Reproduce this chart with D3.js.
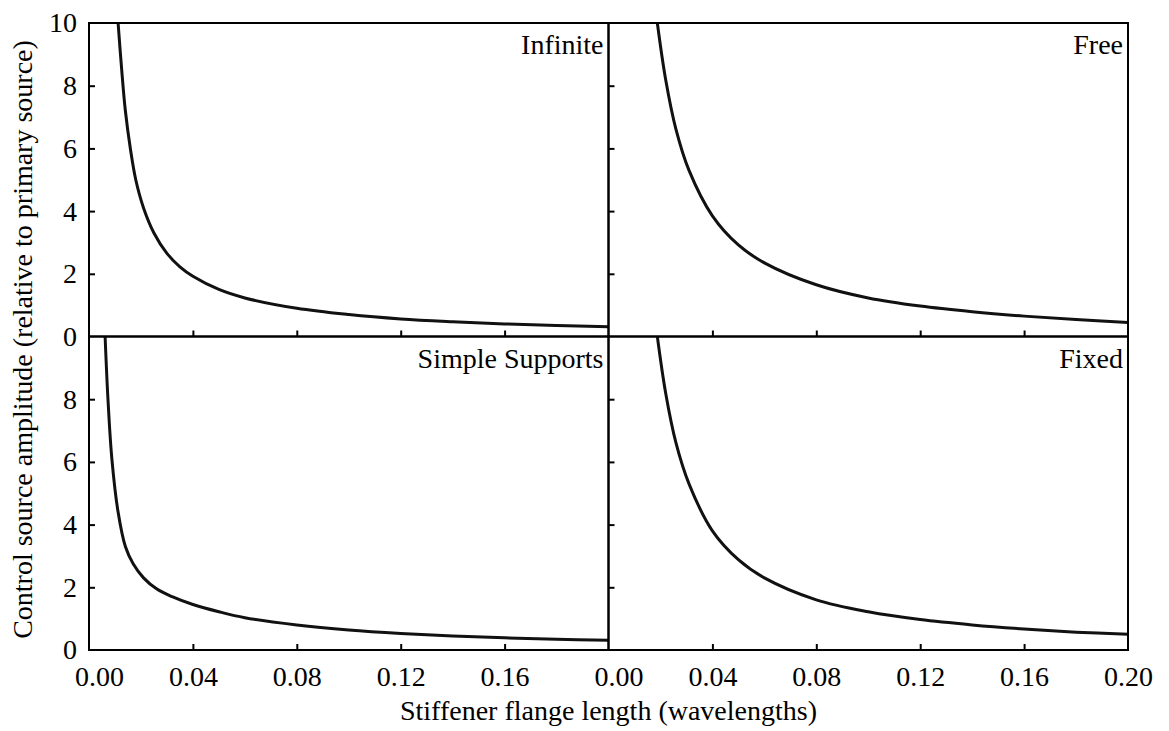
<!DOCTYPE html>
<html>
<head>
<meta charset="utf-8">
<script src="https://cdn.jsdelivr.net/npm/d3@7/dist/d3.min.js"></script>
<style>
body { margin: 0; background: #fff; }
</style>
</head>
<body>
<div id="chart"></div>
<script>
// values, x in wavelengths, y relative to primary source
var panelNames = ["Infinite", "Free", "Simple Supports", "Fixed"];
var xTickValues = [0, 0.04, 0.08, 0.12, 0.16, 0.20];
var yTickValues = [0, 2, 4, 6, 8, 10];

var infiniteX = [0.0112, 0.0125, 0.014, 0.016, 0.018, 0.021, 0.025, 0.030, 0.035, 0.040, 0.050, 0.060, 0.080, 0.100, 0.120, 0.140, 0.160, 0.180, 0.200];
var infiniteY = [10.0, 8.6, 7.2, 5.95, 5.0, 4.1, 3.3, 2.65, 2.22, 1.92, 1.5, 1.23, 0.9, 0.7, 0.56, 0.47, 0.4, 0.35, 0.31];

var freeX = [0.0188, 0.022, 0.026, 0.031, 0.040, 0.050, 0.060, 0.080, 0.100, 0.120, 0.140, 0.160, 0.180, 0.200];
var freeY = [10.0, 8.2, 6.6, 5.3, 3.85, 2.92, 2.35, 1.65, 1.23, 0.97, 0.79, 0.65, 0.54, 0.45];

var simpleX = [0.0062, 0.0073, 0.0088, 0.0112, 0.014, 0.017, 0.021, 0.026, 0.032, 0.040, 0.050, 0.060, 0.080, 0.100, 0.120, 0.140, 0.160, 0.180, 0.200];
var simpleY = [10.0, 8.0, 6.1, 4.4, 3.3, 2.75, 2.3, 1.95, 1.7, 1.45, 1.22, 1.03, 0.8, 0.64, 0.53, 0.45, 0.39, 0.34, 0.31];

var fixedX = [0.0188, 0.022, 0.026, 0.031, 0.040, 0.050, 0.060, 0.080, 0.100, 0.120, 0.140, 0.160, 0.180, 0.200];
var fixedY = [10.0, 8.2, 6.6, 5.3, 3.8, 2.88, 2.3, 1.6, 1.22, 0.97, 0.8, 0.67, 0.57, 0.5];

var seriesX = [infiniteX, freeX, simpleX, fixedX],
    seriesY = [infiniteY, freeY, simpleY, fixedY];

var width = 1169, height = 731,
    leftEdge = 89, midX = 608.5, rightEdge = 1128,
    topEdge = 23, midY = 336.5, bottomEdge = 650,
    fontSize = 28,
    fontFamily = "Liberation Serif, Tinos, Times New Roman, Times, Nimbus Roman, FreeSerif, Noto Serif, DejaVu Serif, serif";

var svg = d3.select("#chart").append("svg")
    .attr("width", width)
    .attr("height", height);

var panels = panelNames.map(function(name, i) {
    var col = i % 2, row = Math.floor(i / 2);
    var x = d3.scaleLinear()
        .domain([0, 0.2])
        .range(col == 0 ? [leftEdge, midX] : [midX, rightEdge]);
    var y = d3.scaleLinear()
        .domain([0, 10])
        .range(row == 0 ? [midY, topEdge] : [bottomEdge, midY]);
    var pts = seriesX[i].map(function(v, j) { return [v, seriesY[i][j]]; });
    return {name: name, col: col, row: row, x: x, y: y, pts: pts};
});

var defs = svg.append("defs");

panels.forEach(function(p, i) {
    var x0 = p.x.range()[0], x1 = p.x.range()[1],
        y0 = p.y.range()[1], y1 = p.y.range()[0];

    defs.append("clipPath")
        .attr("id", "clip" + i)
        .append("rect")
        .attr("x", x0).attr("y", y0)
        .attr("width", x1 - x0).attr("height", y1 - y0);

    var g = svg.append("g");

    // curve
    var line = d3.line()
        .x(function(d) { return p.x(d[0]); })
        .y(function(d) { return p.y(d[1]); })
        .curve(d3.curveCatmullRom.alpha(0.5));

    g.append("path")
        .datum(p.pts)
        .attr("clip-path", "url(#clip" + i + ")")
        .attr("d", line)
        .attr("fill", "none")
        .attr("stroke", "#111")
        .attr("stroke-width", 3);

    // inward tick marks
    var xTicks = g.append("g")
        .attr("transform", "translate(0," + y1 + ")")
        .call(d3.axisBottom(p.x)
            .tickValues(xTickValues.slice(1, 5))
            .tickSizeInner(-6).tickSizeOuter(0)
            .tickFormat(""));
    xTicks.select(".domain").remove();
    xTicks.selectAll("line").attr("stroke", "#000").attr("stroke-width", 2);

    var yTicks = g.append("g")
        .attr("transform", "translate(" + x0 + ",0)")
        .call(d3.axisLeft(p.y)
            .tickValues(yTickValues.slice(1, 5))
            .tickSizeInner(-6).tickSizeOuter(0)
            .tickFormat(""));
    yTicks.select(".domain").remove();
    yTicks.selectAll("line").attr("stroke", "#000").attr("stroke-width", 2);

    // frame
    g.append("rect")
        .attr("x", x0).attr("y", y0)
        .attr("width", x1 - x0).attr("height", y1 - y0)
        .attr("fill", "none")
        .attr("stroke", "#000")
        .attr("stroke-width", 2);

    g.append("text")
        .attr("x", x1 - 5)
        .attr("y", y0 + 31)
        .attr("text-anchor", "end")
        .attr("font-family", fontFamily)
        .attr("font-size", fontSize)
        .text(p.name);

    // tick labels
    if (p.row == 1) {
        var xLab = g.append("g")
            .attr("transform", "translate(0," + y1 + ")")
            .call(d3.axisBottom(p.x)
                .tickValues(p.col == 0 ? xTickValues.slice(0, 5) : xTickValues)
                .tickSize(0).tickPadding(16)
                .tickFormat(d3.format(".2f")));
        xLab.attr("font-family", fontFamily).attr("font-size", fontSize);
        xLab.select(".domain").remove();
        xLab.selectAll("text")
            .attr("fill", "#000")
            .attr("dx", function(d) { return d == 0 ? 10 : 0; });
    }
    if (p.col == 0) {
        var yLab = g.append("g")
            .attr("transform", "translate(" + x0 + ",0)")
            .call(d3.axisLeft(p.y)
                .tickValues(p.row == 0 ? yTickValues : yTickValues.slice(0, 5))
                .tickSize(0).tickPadding(12));
        yLab.attr("font-family", fontFamily).attr("font-size", fontSize);
        yLab.select(".domain").remove();
        yLab.selectAll("text").attr("fill", "#000");
    }
});

svg.append("text")
    .attr("x", (leftEdge + rightEdge) / 2)
    .attr("y", 720)
    .attr("text-anchor", "middle")
    .attr("font-family", fontFamily)
    .attr("font-size", fontSize)
    .text("Stiffener flange length (wavelengths)");

svg.append("text")
    .attr("transform", "translate(32," + ((topEdge + bottomEdge) / 2 + 3) + ") rotate(-90)")
    .attr("text-anchor", "middle")
    .attr("font-family", fontFamily)
    .attr("font-size", fontSize)
    .text("Control source amplitude (relative to primary source)");
</script>
</body>
</html>
